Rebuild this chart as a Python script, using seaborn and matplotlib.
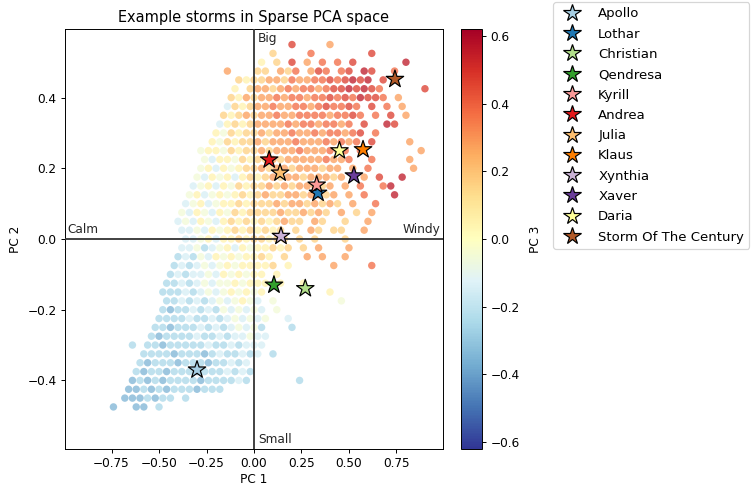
import numpy as np
import pandas as pd
import matplotlib
matplotlib.use("Agg")
import matplotlib.pyplot as plt
from matplotlib.lines import Line2D
import seaborn as sns

# ---------------- data ----------------
storm_names = ["Apollo", "Lothar", "Christian", "Qendresa", "Kyrill", "Andrea",
               "Julia", "Klaus", "Xynthia", "Xaver", "Daria", "Storm Of The Century"]
storm_pc1 = [-0.30, 0.337, 0.27, 0.105, 0.33, 0.08, 0.137, 0.574, 0.142, 0.526, 0.45, 0.742]
storm_pc2 = [-0.37, 0.13, -0.14, -0.13, 0.153, 0.224, 0.187, 0.253, 0.008, 0.179, 0.25, 0.452]

# background cloud, read from the picture as a grid: one char per cell, '.' = empty,
# letter = PC3 level of the dots in that cell
pc3_levels = {'a': -0.45, 'b': -0.35, 'c': -0.25, 'd': -0.15, 'e': -0.05,
              'f': 0.05, 'g': 0.16, 'h': 0.28, 'i': 0.38, 'j': 0.47, 'k': 0.56}
grid_x0, grid_dx = -0.76, 0.04
grid_y0, grid_dy = 0.55, 0.025
cloud_rows = [
    "..........|..........|....j....h|..........|...",
    "..........|..........|.g....i...|....j.....|...",
    "..........|..........|f.g.j.h.i.|i.j......k|...",
    "..........|.....h...g|g.hgi.hji.|ij.kj..i..|...",
    "..........|.......gfg|ghhgihhiij|ijkjk.j...|...",
    "..........|......f.gh|hghihiihij|jkjkji....|.j.",
    "..........|......gfhg|hhihiihiij|ijikjji.h.|...",
    "..........|.....dgfgh|hihhiihiji|iji.j.i.h.|...",
    "..........|.....gfghg|hhihhiiiih|iiji.i.j.h|...",
    "..........|....dfgfgh|hhhihiihii|hi.j..kj..|...",
    "..........|....fegfgg|hghhihhihi|ihij.i....|...",
    "..........|...fegfggh|ghhhihhhih|ihi.j....h|...",
    "..........|..effegfgg|hghhhihhhi|hi.i......|.h.",
    "..........|..edffegfg|ghghhhhhih|hi..i....h|...",
    "..........|..efdfefgg|hghhghhhgh|h.h.i.....|h..",
    "..........|.edfefdfgf|ghghhghhhg|h..h.j..k.|...",
    "..........|.defdfegfg|ghghghhhgh|.h.i..ik..|...",
    "..........|efdefefgfg|hgghhghhgh|.h.i...k..|...",
    "..........|defdeffgfg|gghghhghgh|g.h..i....|...",
    ".........e|dfedfegfgg|gghgghghg.|h.g.h.....|...",
    ".........d|edfedfgfgf|gfghgg.hg.|.g..h.....|...",
    ".........d|dedfefgfgf|gfg.g.hg.g|g..h......|...",
    "..........|ddefdffgfg|gfgg.g.g..|.g........|...",
    ".........d|decdefdfef|fgfg.g.h..|.h........|...",
    ".........c|dcedfefeff|gf.g..h.h.|.h........|...",
    "........cd|cdedefefff|fg.f.....h|....i.....|...",
    "........cd|cddedfefef|f.f.......|..........|...",
    ".......ccd|cdedeefeff|f.f..f....|..........|...",
    ".......ccc|dcdedefefe|f........f|..........|...",
    ".......ccd|cdcdedefed|.e........|e.........|...",
    ".......cbc|cdcdcedede|d.e.......|..........|...",
    "......cccc|dccdcdeded|e..d......|..........|...",
    "......ccbc|ccdcdcdede|c...c.....|..........|...",
    ".....cbccc|cdccdcdded|d.........|..........|...",
    "...c.ccbcc|cccdccdcdd|d.........|..........|...",
    "....ccccbc|ccbcdccdcd|.c........|..........|...",
    "....cbcccb|cccbccdcd.|..........|..........|...",
    "...cbccbcc|cbcccdcdc.|..........|..........|...",
    "...bcbcbcc|ccbccccdc.|.....c....|..........|...",
    "..bbcbcbcc|cbccc.....|..........|..........|...",
    "..bbbcbcc.|c.........|..........|..........|...",
    "b..bb.c...|..........|..........|..........|...",
]

quadrant_labels = ["Big", "Small", "Calm", "Windy"]
x_ticks = [-0.75, -0.50, -0.25, 0.00, 0.25, 0.50, 0.75]
y_ticks = [-0.4, -0.2, 0.0, 0.2, 0.4]
cbar_ticks = [-0.6, -0.4, -0.2, 0.0, 0.2, 0.4, 0.6]

# ---------------- build tables ----------------
cx, cy, cc = [], [], []
for j, row in enumerate(cloud_rows):
    row = row.replace("|", "")
    shift = grid_dx / 2 if j % 2 else 0.0
    for i, ch in enumerate(row):
        if ch in pc3_levels:
            cx.append(grid_x0 + grid_dx * i + shift)
            cy.append(grid_y0 - grid_dy * j)
            cc.append(pc3_levels[ch])
cloud = pd.DataFrame({"PC 1": cx, "PC 2": cy, "PC 3": cc})
storms = pd.DataFrame({"name": storm_names, "PC 1": storm_pc1, "PC 2": storm_pc2})

# ---------------- plot ----------------
DPI = 87
fig = plt.figure(figsize=(752 / DPI, 485 / DPI), dpi=DPI)
ax = fig.add_axes([65 / 752, 1 - 449 / 485, 378 / 752, 420 / 485])
cax = fig.add_axes([461 / 752, 1 - 449 / 485, 21 / 752, 420 / 485])

vlim = 0.62
cmap = plt.get_cmap("RdYlBu_r")
sns.scatterplot(data=cloud, x="PC 1", y="PC 2", hue="PC 3", palette=cmap,
                hue_norm=(-vlim, vlim), s=38, alpha=0.75, linewidth=0,
                legend=False, ax=ax, zorder=2)

ax.axhline(0, color="0.2", lw=1.5, zorder=3)
ax.axvline(0, color="0.2", lw=1.5, zorder=3)

star_cols = sns.color_palette("Paired", len(storm_names))
sns.scatterplot(data=storms, x="PC 1", y="PC 2", hue="name", palette=star_cols,
                marker="*", s=230, edgecolor="black", linewidth=1.0,
                legend=False, ax=ax, zorder=5)

ax.set_xlim(-0.995, 0.995)
ax.set_ylim(-0.594, 0.594)
ax.set_xticks(x_ticks)
ax.set_yticks(y_ticks)
ax.tick_params(labelsize=10)
ax.set_xlabel("PC 1", fontsize=10, labelpad=2)
ax.set_ylabel("PC 2", fontsize=10)
ax.set_title("Example storms in Sparse PCA space", fontsize=12)

ax.text(0.02, 0.585, quadrant_labels[0], ha="left", va="top", fontsize=10, color="0.15")
ax.text(0.02, -0.585, quadrant_labels[1], ha="left", va="bottom", fontsize=10, color="0.15")
ax.text(-0.98, 0.008, quadrant_labels[2], ha="left", va="bottom", fontsize=10, color="0.15")
ax.text(0.98, 0.008, quadrant_labels[3], ha="right", va="bottom", fontsize=10, color="0.15")

sm = matplotlib.cm.ScalarMappable(cmap=cmap, norm=matplotlib.colors.Normalize(-vlim, vlim))
cb = fig.colorbar(sm, cax=cax, ticks=cbar_ticks)
cb.ax.tick_params(labelsize=10)
cb.set_label("PC 3", fontsize=10, labelpad=8)
cb.outline.set_linewidth(0.8)

handles = [Line2D([0], [0], marker="*", linestyle="none", markersize=15,
                  markerfacecolor=c, markeredgecolor="black", markeredgewidth=1.0)
           for c in star_cols]
fig.legend(handles, storm_names, loc="upper left",
           bbox_to_anchor=(553 / 752, 1 - 2 / 485), fontsize=11,
           frameon=True, handletextpad=1.0, labelspacing=0.55, borderaxespad=0.0)

fig.savefig("out.png", dpi=DPI)
